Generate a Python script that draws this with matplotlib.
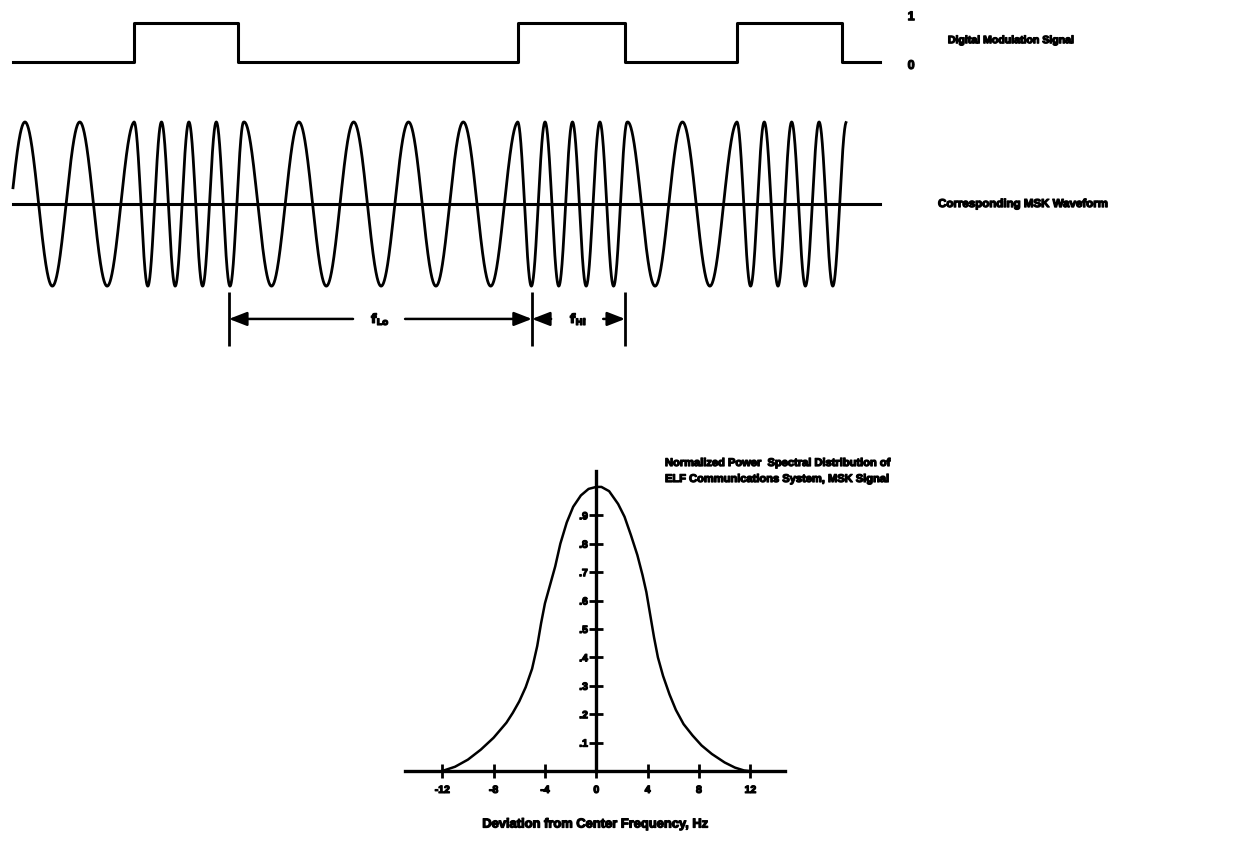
import numpy as np
import matplotlib
matplotlib.use("Agg")
import matplotlib.pyplot as plt
import matplotlib.patheffects as pe

plt.rcParams['font.family'] = ['Liberation Sans', 'DejaVu Sans']
plt.rcParams['font.weight'] = 'bold'

# digital modulation signal, time in low-tone cycles
sig_edges = [0, 2.21, 4.11, 9.21, 11.17, 13.21, 15.13, 15.82]
sig_levels = [0, 1, 0, 1, 0, 1, 0]

# MSK waveform: tone switching times and the bit sent in each segment
wave_edges = [0, 2.2, 4.2, 9.2, 11.2, 13.2, 15.2]
wave_bits = [0, 1, 0, 1, 0, 1]
tone_cycles = {0: 1.0, 1: 2.0}   # f_Hi = 2 x f_Lo
start_phase = 0.2

# f_Lo / f_Hi marker bars
marker_edges = [3.94, 9.47, 11.17]
marker_labels = ['Lo', 'Hi']

# normalized power spectrum
freq_hz = [-12.0, -11.0, -10.0, -9.0, -8.0, -7.0, -6.5, -6.0, -5.5, -5.0, -4.6, -4.3, -4.0,
           -3.6, -3.2, -2.8, -2.3, -1.8, -1.2, -0.6, 0.0, 0.4, 1.0, 1.7, 2.2, 2.7, 3.2,
           3.6, 3.9, 4.2, 4.5, 4.8, 5.2, 5.7, 6.2, 6.8, 7.5, 8.2, 9.0, 10.0, 10.8, 11.5, 11.9]
power = [0.0, 0.015, 0.04, 0.075, 0.117, 0.17, 0.205, 0.245, 0.295, 0.36, 0.44, 0.52, 0.59,
         0.655, 0.72, 0.80, 0.875, 0.93, 0.97, 0.993, 1.0, 1.0, 0.985, 0.94, 0.895, 0.83, 0.76,
         0.69, 0.63, 0.55, 0.47, 0.40, 0.335, 0.27, 0.215, 0.165, 0.125, 0.09, 0.06, 0.03,
         0.012, 0.002, 0.0]
xticks = [-12, -8, -4, 0, 4, 8, 12]
xtick_labels = ['-12', '-8', '-4', '0', '4', '8', '12']
yticks = [0.1, 0.2, 0.3, 0.4, 0.5, 0.6, 0.7, 0.8, 0.9]
ytick_labels = ['.1', '.2', '.3', '.4', '.5', '.6', '.7', '.8', '.9']

W, H = 1238, 853
fig = plt.figure(figsize=(W / 100, H / 100), dpi=100)
heavy = [pe.withStroke(linewidth=0.9, foreground='black')]


def rect(x0, y0, x1, y1):
    # pixel box (top-left origin) -> figure fraction
    return [x0 / W, 1 - y1 / H, (x1 - x0) / W, (y1 - y0) / H]


# shared time scale for the two top panels
t_lim = (-13 / 54.8, (W - 13) / 54.8)

# --- digital modulation signal ---
ax_sig = fig.add_axes(rect(0, 0, W, 90))
ax_sig.set_xlim(*t_lim)
ax_sig.set_ylim(-0.692, 1.615)
ax_sig.axis('off')
ax_sig.step(sig_edges, sig_levels + [sig_levels[-1]], where='post', color='black', lw=2.2)
ax_sig.text(16.39, 1.15, '1', ha='center', va='center', fontsize=9, path_effects=heavy)
ax_sig.text(16.39, -0.1, '0', ha='center', va='center', fontsize=9, path_effects=heavy)
ax_sig.text(17.06, 0.56, 'Digital Modulation Signal', ha='left', va='center',
            fontsize=7.6, path_effects=heavy)

# --- MSK waveform, phase continuous ---
ax_w = fig.add_axes(rect(0, 100, W, 370))
ax_w.set_xlim(*t_lim)
ax_w.set_ylim(-2.01, 1.28)
ax_w.axis('off')
t = np.linspace(wave_edges[0], wave_edges[-1], 5000)
seg = np.clip(np.searchsorted(wave_edges, t, side='right') - 1, 0, len(wave_bits) - 1)
f = np.array([tone_cycles[b] for b in wave_bits])[seg]
phase = start_phase + 2 * np.pi * np.concatenate([[0], np.cumsum(f[:-1] * np.diff(t))])
ax_w.plot(t, np.sin(phase), color='black', lw=2.0)
ax_w.plot([sig_edges[0], sig_edges[-1]], [0, 0], color='black', lw=2.2)
ax_w.text(16.88, 0, 'Corresponding MSK Waveform', ha='left', va='center',
          fontsize=8.3, path_effects=heavy)

# f_Lo / f_Hi dimension arrows
arr_y = -1.40
ax_w.vlines(marker_edges, -1.73, -1.07, color='black', lw=2.0)
for i, lab in enumerate(marker_labels):
    a, b = marker_edges[i], marker_edges[i + 1]
    mid = (a + b) / 2
    ax_w.text(mid, arr_y, r'$\mathbf{f}_{\mathbf{%s}}$' % lab, ha='center', va='center',
              fontsize=9, path_effects=heavy)
    for start, end in [(mid - 0.5, a), (mid + 0.45, b)]:
        ax_w.annotate('', xy=(end, arr_y), xytext=(start, arr_y),
                      arrowprops=dict(arrowstyle='-|>,head_length=0.9,head_width=0.35',
                                      color='black', lw=1.8, shrinkA=0, shrinkB=0,
                                      mutation_scale=12))

# --- power spectral distribution ---
ax_s = fig.add_axes(rect(405, 472, 785, 772))
ax_s.plot(freq_hz, power, color='black', lw=1.8, clip_on=False)
ax_s.set_xlim(-14.9, 14.7)
ax_s.set_ylim(0, 1.056)
for side in ['top', 'right']:
    ax_s.spines[side].set_visible(False)
ax_s.spines['left'].set_position(('data', 0))
for side in ['left', 'bottom']:
    ax_s.spines[side].set_linewidth(2.4)
ax_s.set_xticks(xticks)
ax_s.set_xticklabels(xtick_labels, fontsize=7.5, fontweight='bold', path_effects=heavy)
ax_s.set_yticks(yticks)
ax_s.set_yticklabels(ytick_labels, fontsize=7.5, fontweight='bold', path_effects=heavy)
ax_s.tick_params(axis='x', direction='inout', length=10, width=2, pad=5)
ax_s.tick_params(axis='y', direction='inout', length=10, width=2, pad=1)
ax_s.set_xlabel('Deviation from Center Frequency, Hz', fontsize=9.3, fontweight='bold',
                labelpad=17, path_effects=heavy)
ax_s.patch.set_alpha(0)

fig.text(665 / W, 1 - 459 / H,
         'Normalized Power  Spectral Distribution of\nELF Communications System, MSK Signal',
         ha='left', va='top', fontsize=8.0, linespacing=1.75, path_effects=heavy)

fig.savefig('out.png', dpi=100)
